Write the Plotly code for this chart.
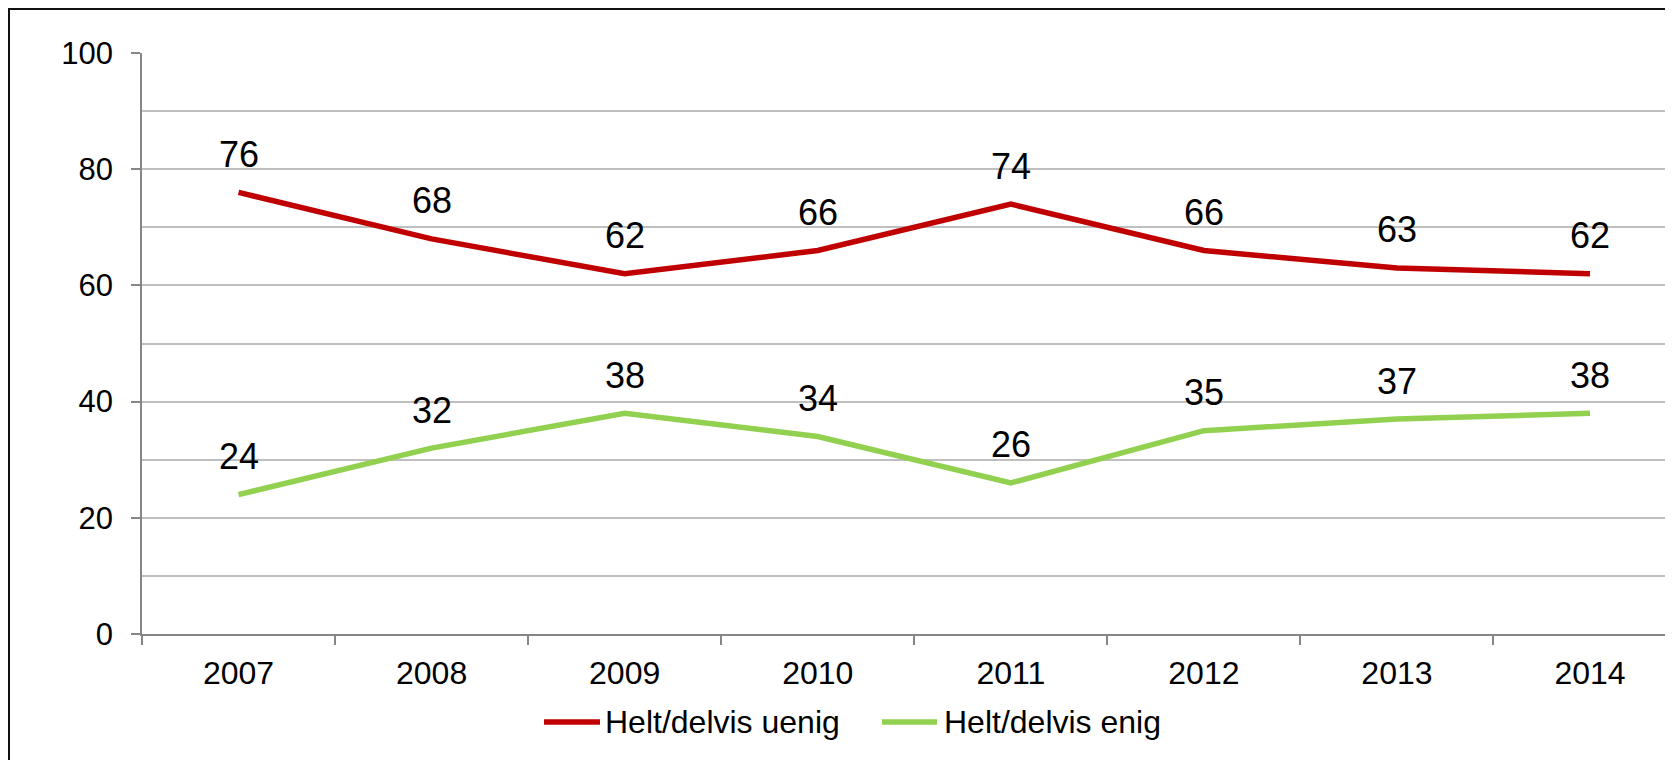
import plotly.graph_objects as go

years = ["2007", "2008", "2009", "2010", "2011", "2012", "2013", "2014"]
uenig = [76, 68, 62, 66, 74, 66, 63, 62]
enig = [24, 32, 38, 34, 26, 35, 37, 38]

series_names = ["Helt/delvis uenig", "Helt/delvis enig"]
series_colors = ["#C00000", "#92D050"]

# the page body adds an 8px margin, so the figure is sized/placed to fit
OFF = 8
W, H = 1673 - OFF, 760 - OFF
ML, MR, MT = 142 - OFF, 0, 53 - OFF
MB = H - (634 - OFF)
PW, PH = W - ML - MR, H - MT - MB


def px_x(px):
    # px given in page coordinates
    return (px - OFF - ML) / PW


def px_y(py):
    return (H - MB - (py - OFF)) / PH


fig = go.Figure()
annotations = []
for name, vals, color in zip(series_names, [uenig, enig], series_colors):
    fig.add_scatter(
        x=years, y=vals, mode="lines", name=name,
        line=dict(color=color, width=5.5),
        showlegend=False, hoverinfo="skip",
    )
    for i, v in enumerate(vals):
        annotations.append(dict(
            x=i, y=v, text=str(v), showarrow=False, yshift=38,
            font=dict(size=36, color="black"),
            xanchor="center", yanchor="middle",
        ))

# legend drawn by hand (longer line samples like the original)
legend_items = [(544, 600, 603), (882, 937, 942)]
shapes = []
for (x0, x1, tx), name, color in zip(legend_items, series_names, series_colors):
    shapes.append(dict(
        type="line", xref="paper", yref="paper",
        x0=px_x(x0), x1=px_x(x1), y0=px_y(722), y1=px_y(722),
        line=dict(color=color, width=5.5),
    ))
    annotations.append(dict(
        xref="paper", yref="paper", x=px_x(tx), y=px_y(722),
        text=name, showarrow=False, xanchor="left", yanchor="middle",
        font=dict(size=32, color="black"),
    ))

# outer frame (cropped at right and bottom)
shapes.append(dict(
    type="rect", xref="paper", yref="paper",
    x0=px_x(OFF + 1), x1=px_x(1750), y0=px_y(820), y1=px_y(OFF + 1),
    line=dict(color="#111111", width=2), fillcolor="rgba(0,0,0,0)", layer="above",
))

fig.update_layout(
    width=W, height=H,
    margin=dict(l=ML, r=MR, t=MT, b=MB),
    paper_bgcolor="white", plot_bgcolor="white",
    font=dict(family="Liberation Sans, Arial, sans-serif", color="black"),
    annotations=annotations, shapes=shapes,
    xaxis=dict(
        type="category", range=[-0.5, -0.5 + PW / 193.07],
        tickson="boundaries", ticks="outside", ticklen=9, tickcolor="#868686",
        tickwidth=1.5, showgrid=False, showline=True, linecolor="#868686",
        linewidth=1.5, tickfont=dict(size=32), ticklabelstandoff=10,
    ),
    yaxis=dict(
        range=[0, 100], dtick=20, ticks="outside", ticklen=9, tickcolor="#868686",
        tickwidth=1.5, showline=True, linecolor="#868686", linewidth=1.5,
        gridcolor="#BFBFBF", gridwidth=1.5, zeroline=False,
        minor=dict(dtick=10, showgrid=True, gridcolor="#BFBFBF", gridwidth=1.5),
        tickfont=dict(size=31), ticklabelstandoff=12,
    ),
)

fig.write_html("out.html")
